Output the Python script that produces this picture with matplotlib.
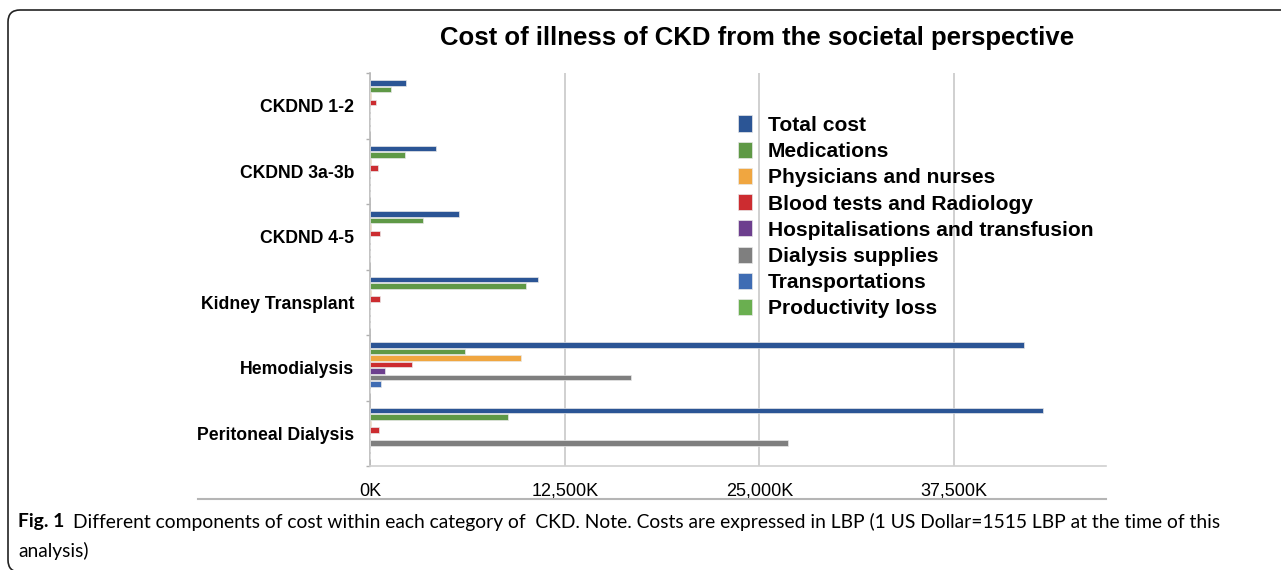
import matplotlib
matplotlib.use('Agg')
import matplotlib.pyplot as plt
import numpy as np
from matplotlib.patches import FancyBboxPatch
from matplotlib.lines import Line2D
from matplotlib.transforms import IdentityTransform
from matplotlib.ticker import FuncFormatter

# ---------------- data (values in thousands of LBP) ----------------
categories = ["CKDND 1-2", "CKDND 3a-3b", "CKDND 4-5",
              "Kidney Transplant", "Hemodialysis", "Peritoneal Dialysis"]
series_names = ["Total cost", "Medications", "Physicians and nurses",
                "Blood tests and Radiology", "Hospitalisations and transfusion",
                "Dialysis supplies", "Transportations", "Productivity loss"]
total_cost      = [2330, 4240, 5700, 10780, 42000, 43200]
medications     = [1370, 2250, 3380, 10000, 6070, 8830]
physicians      = [50, 50, 70, 80, 9680, 50]
blood_tests     = [400, 520, 660, 650, 2680, 570]
hospitalisation = [0, 0, 0, 0, 980, 0]
dialysis        = [0, 0, 0, 0, 16740, 26850]
transportation  = [0, 0, 0, 0, 690, 0]
productivity    = [0, 0, 0, 0, 0, 0]
x_ticks = [0, 12500, 25000, 37500]

series_values = [total_cost, medications, physicians, blood_tests,
                 hospitalisation, dialysis, transportation, productivity]
colors = ['#2b5595', '#5f9946', '#f0a640', '#cc2c30',
          '#6d3f8e', '#7f7f7f', '#3f6cb3', '#6aaf50']

W, H = 1281, 570
fig = plt.figure(figsize=(W / 100, H / 100), dpi=100)
fig.patch.set_facecolor('white')

def fx(px):
    return px / W

def fy(py):
    return 1 - py / H

ax = fig.add_axes([fx(370), fy(466), fx(1106) - fx(370), fy(73) - fy(466)])

y = np.arange(len(categories))
n = len(series_names)
slot = 0.8 / n
for j, (name, vals, col) in enumerate(zip(series_names, series_values, colors)):
    ax.barh(y - 0.4 + slot / 2 + j * slot, vals, height=slot * 0.86,
            color=col, edgecolor='#e8e8e8', linewidth=0.5, label=name, zorder=3)

ax.set_ylim(len(categories) - 0.5, -0.5)
ax.set_xlim(0, 47250)
ax.set_xticks(x_ticks)
ax.xaxis.set_major_formatter(FuncFormatter(lambda v, p: f"{int(v):,}K"))
ax.tick_params(axis='x', length=0, pad=12, labelsize=13, labelcolor='black')
for lab in ax.get_xticklabels():
    lab.set_family('Liberation Sans')

ax.set_yticks(y)
ax.set_yticklabels(categories, fontsize=12.7, fontweight='bold', family='Liberation Sans')
ax.tick_params(axis='y', which='major', length=0, pad=11.5)
ax.set_yticks(np.arange(-0.5, len(categories)), minor=True)
ax.tick_params(axis='y', which='minor', length=3, width=1, color='#b0b0b0', direction='out')

ax.grid(axis='x', color='#c8c8c8', linewidth=1.2, zorder=0)
ax.set_axisbelow(True)
for s in ['top', 'right']:
    ax.spines[s].set_visible(False)
ax.spines['left'].set_color('#b8b8b8')
ax.spines['left'].set_linewidth(1.2)
ax.spines['bottom'].set_color('#d0d0d0')
ax.spines['bottom'].set_linewidth(1.2)

leg = ax.legend(loc='upper left', bbox_to_anchor=(fx(738), fy(115.5)),
                bbox_transform=fig.transFigure, frameon=False,
                prop={'family': 'Liberation Sans', 'weight': 'bold', 'size': 15.1},
                handlelength=0.67, handleheight=0.8, handletextpad=0.75,
                labelspacing=0.33, borderpad=0, borderaxespad=0)

fig.text(fx(757), fy(38), "Cost of illness of CKD from the societal perspective",
         ha='center', va='center', fontsize=18.5, fontweight='bold',
         family='Liberation Sans')

# line below tick labels
fig.add_artist(Line2D([fx(198), fx(1106)], [fy(499), fy(499)],
                      transform=fig.transFigure, color='#b5b5b5', linewidth=1.5))

# caption
renderer = fig.canvas.get_renderer()
cap_size = 13.9
t1 = fig.text(fx(18), fy(522), "Fig. 1", ha='left', va='center',
              fontsize=cap_size, fontweight='bold', family='Lato')
bb = t1.get_window_extent(renderer)
fig.text((bb.x1 + 9) / W, fy(522),
         "Different components of cost within each category of  CKD. Note. Costs are "
         "expressed in LBP (1 US Dollar=1515 LBP at the time of this",
         ha='left', va='center', fontsize=cap_size, family='Lato')
fig.text(fx(18), fy(551), "analysis)", ha='left', va='center', fontsize=cap_size, family='Lato')

# rounded frame
frame = FancyBboxPatch((8, -2), 1300, 562, boxstyle="round,pad=0,rounding_size=12",
                       transform=IdentityTransform(), facecolor='none',
                       edgecolor='#222222', linewidth=1.2)
fig.add_artist(frame)

fig.savefig('out.png', dpi=100)
